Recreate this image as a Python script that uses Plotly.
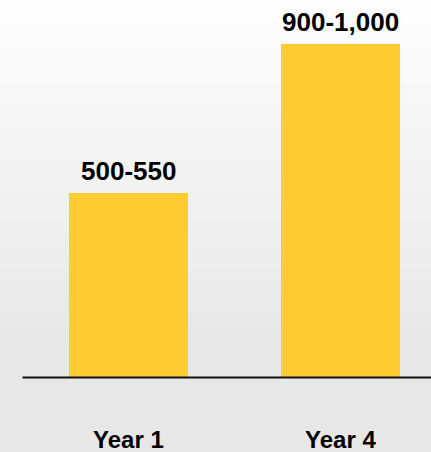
import plotly.graph_objects as go

categories = ["Year 1", "Year 4"]
values = [525, 950]
value_labels = ["500-550", "900-1,000"]

W, H = 431, 452
bar_color = "#FFCC33"
font_family = "Liberation Sans, Arial, sans-serif"

fig = go.Figure()
fig.add_trace(go.Bar(
    x=categories, y=values, marker=dict(color=bar_color, line=dict(width=0)),
    width=0.561, hoverinfo="skip", showlegend=False,
))

# background gradient stripes
shapes = []
n = 113
for i in range(n):
    y_top_px = i * H / n
    y_bot_px = (i + 1) * H / n
    mid = (y_top_px + y_bot_px) / 2
    t = min(mid / 350.0, 1.0)
    c = round(254 - (254 - 231) * t)
    shapes.append(dict(type="rect", xref="paper", yref="paper",
                       x0=0, x1=1, y0=1 - y_bot_px / H, y1=1 - y_top_px / H,
                       fillcolor=f"rgb({c},{c},{c})", line=dict(width=0),
                       layer="below"))

xr = [-0.606, 1.427]
shapes.append(dict(type="line", xref="x", yref="y", x0=-0.5, x1=xr[1], y0=0, y1=0,
                   line=dict(color="#111111", width=2)))

annotations = []
for cat, v, lab in zip(categories, values, value_labels):
    annotations.append(dict(x=cat, y=v, xref="x", yref="y", text=f"<b>{lab}</b>",
                            showarrow=False, yanchor="bottom", yshift=5,
                            font=dict(family=font_family, size=26, color="#000000")))
    annotations.append(dict(x=cat, y=0, xref="x", yref="y", text=f"<b>{cat}</b>",
                            showarrow=False, yanchor="top", yshift=-46,
                            font=dict(family=font_family, size=24, color="#000000")))

fig.update_layout(
    width=W, height=H, margin=dict(l=0, r=0, t=0, b=0),
    paper_bgcolor="#ffffff", plot_bgcolor="rgba(0,0,0,0)",
    shapes=shapes, annotations=annotations,
    xaxis=dict(range=xr, showgrid=False, zeroline=False, showticklabels=False,
               showline=False, ticks="", fixedrange=True),
    yaxis=dict(range=[-212.2, 1075.3], showgrid=False, zeroline=False,
               showticklabels=False, showline=False, ticks="", fixedrange=True),
    bargap=0,
)

fig.write_html("out.html", config={"displayModeBar": False})
